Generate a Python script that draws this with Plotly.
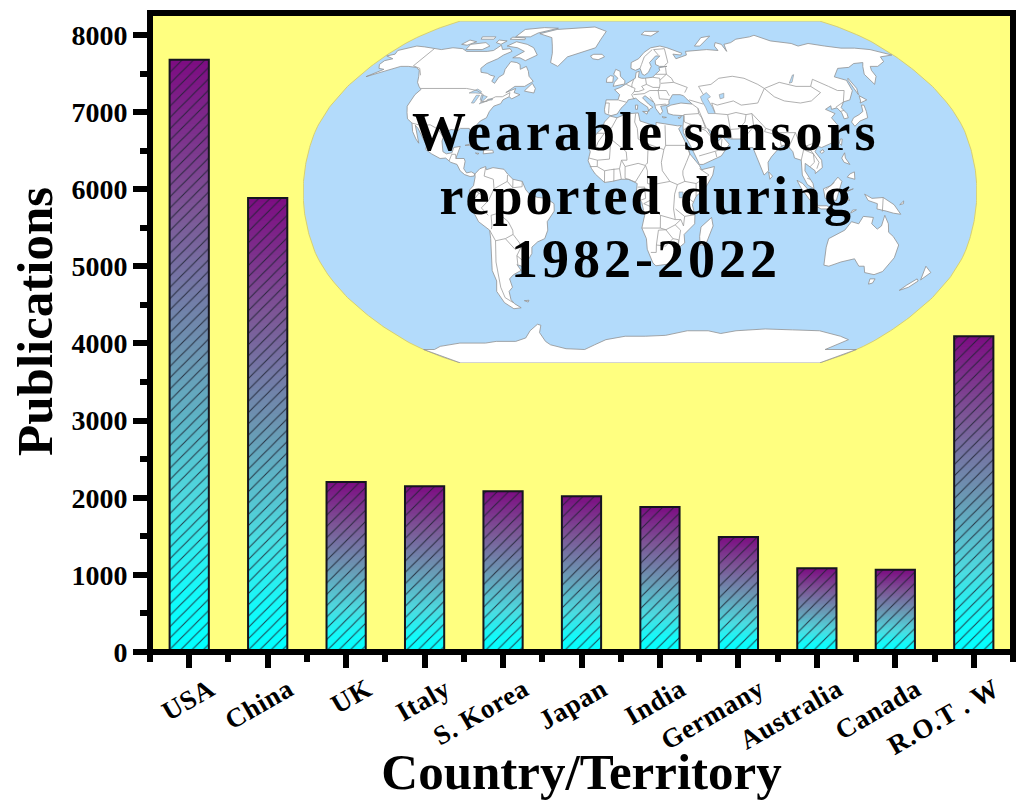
import numpy as np
import plotly.graph_objects as go

# ---- bar chart data ----
countries = ["USA", "China", "UK", "Italy", "S. Korea", "Japan", "India",
             "Germany", "Australia", "Canada", "R.O.T . W"]
publications = [7680, 5885, 2205, 2150, 2085, 2020, 1880, 1490, 1085, 1065, 4095]
y_ticks = [0, 1000, 2000, 3000, 4000, 5000, 6000, 7000, 8000]
headline = ["Wearable sensors", "reported during", "1982-2022"]

# ---- world outlines as (lon, lat); longitudes run -169..191 around a central meridian of 11E ----
north_america = [(-168,65.5),(-164,66.5),(-166,68.5),(-157,71),(-150,70.5),(-141,69.7),(-135,69),(-128,70),(-120,69.5),(-115,68),(-108,68),(-100,68),(-96,68.5),(-94,71.5),(-90,69),(-85,69.5),(-82,68),(-86,66),(-88,64),(-93,61.5),(-94.5,59),(-92.5,57),(-88,56.5),(-85,55.5),(-82,55),(-82,52.5),(-79.5,51.5),(-79,54.5),(-77,56),(-78,58.5),(-77.5,62.5),(-73,62),(-70,61),(-68,58.5),(-65,60),(-62,57.5),(-60,55),(-56,52.5),(-60,50),(-66,50),(-70,47),(-65,49),(-65,47),(-61,46),(-65,44),(-67,45),(-70,43.5),(-70.5,41.7),(-74,40.5),(-75.5,38),(-76,35),(-79,33.5),(-81,31),(-80,27),(-81,25),(-82.5,28),(-84,30),(-89,30),(-90,29),(-94,29.5),(-97,28),(-97.5,24),(-96,19),(-94,18),(-91,18.5),(-90.5,21),(-87,21.5),(-88,17),(-88.5,15.8),(-84,15.8),(-83.3,14.5),(-83.7,11),(-82,9),(-79.5,9.5),(-77.5,8.5),(-78,7.5),(-80,7.3),(-83,8.2),(-85.5,10),(-87.5,13),(-91,14),(-94,16),(-97,15.8),(-102,18),(-105.5,20),(-105.5,22),(-109,26),(-112.5,30),(-114.7,31.5),(-112,27),(-110,23),(-112,25),(-115,28.5),(-117,32.5),(-120.5,34.5),(-122.5,37.5),(-124.3,40.5),(-124,46),(-122.5,48.5),(-125,50),(-128,52),(-130.5,55),(-134,58),(-138,59.5),(-144,60),(-149,60),(-152,59),(-158,56.5),(-164,54.8),(-158,58.5),(-162,59),(-165,61),(-165,63),(-161,64),(-168,65.5)]
south_america = [(-77.5,8.5),(-75,11),(-72,12),(-71.5,10.5),(-68,11.5),(-62,10.7),(-60,8.5),(-57,6),(-52,5),(-50,1),(-48,-1),(-44,-2.5),(-39,-3),(-35,-5.5),(-35,-9),(-39,-14),(-39,-18),(-41,-22),(-45,-23.5),(-48.5,-26),(-49,-29),(-53,-33.5),(-56,-35),(-58.5,-34.2),(-57,-37),(-62,-39),(-65,-41),(-65,-45),(-68,-47),(-69,-51),(-68,-53),(-65,-55),(-70,-55.5),(-74,-52.5),(-75.5,-47),(-73,-42),(-73.5,-37),(-71.5,-30),(-70.5,-22),(-70.5,-18),(-76,-14),(-78,-10),(-81,-6),(-80,-2.5),(-80,1),(-78,3),(-77.3,7),(-77.5,8.5)]
africa = [(-6,35.8),(-2,35),(3,36.8),(10,37.3),(11,33.5),(15,32.3),(20,31),(20,32.8),(25,32),(32,31.2),(34.2,31.3),(32.5,29.8),(35,25),(37,21),(38,18),(43,12.5),(44,10.5),(51,12),(50,8),(46,2),(41,-2),(39,-6),(40.5,-11),(40.5,-15),(35,-20),(35.5,-24),(32.8,-26),(31,-30),(27,-34),(20,-34.8),(18.3,-33.5),(15,-27),(14.5,-22),(12,-17),(13.5,-11),(12,-5),(9,-1),(9.5,4),(5,6),(1,6),(-4,5),(-8,4.5),(-13,8.5),(-15,11),(-17,14.7),(-16,19),(-17,21),(-13,27.5),(-10,30),(-9,33),(-6,35.8)]
eurasia = [(-9,37),(-9.5,39),(-9,43.5),(-2,43.5),(-1.2,46),(-4.5,48.4),(-1,49.5),(2,51),(4,52),(8,54),(8.5,57),(10.5,57.5),(10,54.5),(12,54),(14,54),(19,54.5),(21,56),(24,58),(23.5,59.3),(29,60),(24,60),(21.5,61),(21.5,63),(25,65.5),(22,65.5),(17.5,62),(18.5,60),(16.5,57),(14,55.5),(12.5,56),(11,59),(8,58),(5,59),(5,62),(10,64),(14,67.5),(19,70),(26,71),(31,70),(41,67),(40,66),(34.5,66.5),(36,64),(40,65),(44,66),(44,68),(54,68.5),(60,69),(68,68.5),(67,71),(69,73),(73,72),(74,68),(75,72),(81,73),(87,75),(100,76.5),(105,77.5),(113,74),(127,72.5),(130,71),(140,72.5),(150,71),(160,69.8),(170,69.8),(180,69),(190,66),(180,65),(178,62.5),(170,60),(165,60),(163,58),(162,55),(158,52),(156.5,51),(155.7,56),(160,60),(163,62),(156,61.5),(150,59.5),(142,59),(135,54.7),(141,53),(140,48),(135,43.5),(130.5,42.5),(127.5,39.8),(129.3,37),(129,35),(126.5,34.5),(126.5,37.5),(125,39.7),(121.5,39),(122,40.7),(118,39),(122.5,37),(119.5,35),(122,31),(121,28),(117,23.5),(110,21),(108,21.5),(106,19),(109,15),(109,11.5),(105,8.7),(105,10),(100,13.5),(99.5,10),(103.5,4),(104,1.5),(100.5,3.5),(98,8),(98,15),(94.5,16),(94,19),(91,22.5),(87,21),(82,16.5),(80,14),(80,10),(77.5,8),(73,20),(72.5,21),(70,21),(67,25),(61,25),(57,26),(56.5,27),(52,27.5),(48.5,30),(51,25),(54,24.2),(56.5,26),(59.8,22.5),(55,17),(45,13),(43,13),(39,21),(35,28),(35,31),(36,36),(30,36.3),(27,37),(26.5,40),(29,41),(35,42),(41.5,41.5),(38,44.5),(37,45.5),(35,46),(33,46),(30.5,46),(28,43),(28,41.5),(26,40.8),(23,40.5),(24,38),(22.5,36.5),(20,39.5),(19.5,42),(14,45.5),(12.5,44.5),(16,41.5),(18.5,40),(16.5,39),(16,38),(15.5,40),(11,42.5),(8.5,44.3),(4,43.5),(3,42),(0,39.5),(-2,36.8),(-5.5,36),(-9,37)]
australia = [(114,-22),(113.5,-26),(115,-34.5),(118,-35),(124,-33),(131,-31.5),(135,-35),(138,-35),(140,-38),(146,-39),(150,-37.5),(153,-31),(153,-25),(149,-21),(146,-19),(145,-15),(142.5,-11),(141.5,-16),(139.5,-17.5),(136,-15),(136.5,-12),(131,-11.5),(129,-15),(125,-14),(122,-18),(114,-22)]
antarctica = [(-169,-78),(-160,-78),(-150,-76),(-130,-74),(-110,-74),(-100,-73),(-85,-73),(-75,-71),(-68,-67),(-60,-63.5),(-58,-64),(-62,-68),(-62,-73),(-60,-75),(-50,-77.5),(-35,-78),(-25,-75),(-15,-72),(0,-70),(15,-70),(30,-69.5),(45,-67),(60,-67),(70,-68.5),(80,-67),(100,-66),(120,-66.5),(140,-67),(160,-70),(170,-72),(165,-78),(191,-78),(191,-90),(-169,-90)]
islands = [
    [(-62,66),(-68,63),(-73,64.5),(-78,64.5),(-73,68),(-80,70),(-89,71),(-85,73.5),(-75,72),(-68,70)],
    [(-117,69),(-105,69),(-102,71),(-108,73),(-118,72)],
    [(-125,72),(-120,71.5),(-116,73.5),(-123,74.5)],
    [(-115,75),(-105,75),(-106,76.5),(-117,76.5)],
    [(-100,73),(-95,72),(-93,74),(-100,74.5)],
    [(-92,75),(-80,74.7),(-81,75.8),(-92,76.3)],
    [(-90,76.5),(-78,76.5),(-75,79),(-62,82.5),(-75,83),(-90,81.5)],
    [(-59,47.7),(-53,46.8),(-53,49),(-56,51.5),(-59,48)],
    [(-73,78.5),(-60,76),(-55,71),(-52,67),(-50,62),(-44,60),(-40,65),(-30,68),(-22,70),(-20,75),(-18,80),(-30,83.5),(-45,82.5),(-62,81.5)],
    [(-24,65.5),(-22,64),(-18,63.5),(-14,65),(-16,66.4),(-22,66.4)],
    [(-84.5,22),(-80,23),(-75,20.5),(-74.5,20),(-78,20),(-82,22)],
    [(-74,19.8),(-69,19.7),(-68.5,18.5),(-74,18)],
    [(-78.3,18.4),(-76.3,18.2),(-77,17.8)],
    [(-5.5,50),(1.5,51.2),(1.5,52.8),(-1.5,55),(-2,57.5),(-5,58.5),(-6,56),(-3,54),(-5,52)],
    [(-10,52),(-6,52),(-6,55),(-8,55.3),(-10,54)],
    [(12.5,38),(15.5,38),(15,36.7)],
    [(8.3,41),(9.7,41),(9.5,39),(8.5,39)],
    [(23.5,35.5),(26,35.2),(24.5,34.9)],
    [(32.5,35),(34.5,35.6),(33.5,34.6)],
    [(130,33),(131,31),(135,33.5),(140,35),(141,38),(141.5,41),(140,41),(139,38),(136,36.5),(132,35)],
    [(140,42),(145,43.5),(142,45.5),(141,43)],
    [(142,46),(143.5,49),(143,54),(142,53)],
    [(120,23),(121,25),(122,25),(121,22)],
    [(108.7,19),(110.5,20),(111,19),(109.5,18.2)],
    [(120,16),(122,18.5),(122,16),(124,13),(121,14)],
    [(122,7),(126,6),(126,9.5),(123.5,8.5)],
    [(109,1.5),(113,3),(117,7),(119,5),(117.5,1),(116,-4),(110,-3)],
    [(95,5.5),(98,4),(104,-2),(106,-6),(102,-4),(97,2)],
    [(105,-6.5),(111,-6.5),(114.5,-8),(108,-8)],
    [(119.5,-5.5),(119.5,0),(125,1.5),(121,0),(123,-4),(120.5,-3)],
    [(124,-10),(127,-8.4),(125,-8.5)],
    [(131,-1),(135,-3),(141,-2.6),(147,-6),(151,-10.5),(147,-10),(143,-9),(138,-8),(138,-5.5),(133,-4)],
    [(150,-6),(152,-4.2),(152,-5.5)],
    [(145,-41),(148,-41),(148,-43),(146,-43.5)],
    [(173,-35),(178,-38),(175,-41.5),(174,-39)],
    [(172.5,-41),(174,-42),(171,-45),(167,-46.5),(169,-44)],
    [(49.5,-12),(50.5,-16),(47,-25),(44,-25),(43.5,-21),(44,-16.5)],
    [(80,9.5),(82,7.5),(80.5,6)],
    [(52,71),(56,71),(68,77),(60,76)],
    [(12,78),(20,77),(27,80),(15,80)],
    [(-61,-51.5),(-58,-51.3),(-59,-52.2)],
]
lakes = [
    [(47,45),(51,47),(53,45),(51,44),(53,40),(54,37),(50,37),(49,40),(47.5,43)],
    [(-92,46.8),(-88,48.7),(-85,47.5),(-85,46.6),(-88,46.8)],
    [(-87.8,42),(-86.3,42),(-85,45.7),(-87,45.7)],
    [(-84,46),(-80,45),(-81.7,43),(-83.5,43.5)],
    [(-83,41.6),(-79,42.7),(-79,43),(-82.5,42.3)],
    [(-79.5,43.3),(-76.3,43.5),(-76.5,44.1),(-79,43.8)],
    [(31.8,0),(34,0),(33.7,-2.7),(32,-2.7)],
    [(104,51.6),(106,52),(110,55.8),(109,55.6)],
    [(58.5,46),(61.5,46.7),(60.8,44.5),(58.5,44)],
]
borders = [
    [(-123,49),(-95,49),(-88,48),(-83,46),(-82.5,42.5),(-79,43),(-75,45),(-71,45),(-67.5,47),(-67,45)],
    [(-141,69.7),(-141,60.3),(-135,59),(-130,55.5)],
    [(-117,32.5),(-111,31.3),(-106.5,31.7),(-101,29.5),(-97.5,26)],
    [(-92,14.6),(-91,17.8),(-89,17.8),(-88.3,15.8)],
    [(-72,11.5),(-72.5,7.5),(-67.5,6),(-67,1.5),(-70,-4),(-75,-0.5),(-78.5,1)],
    [(-75,-0.5),(-78.5,-4.5),(-80.3,-3.5)],
    [(-70,-4),(-74,-7.5),(-70.5,-11)],
    [(-69,-11),(-69,-16),(-69.5,-17.5)],
    [(-70.5,-18),(-68,-23),(-70,-33),(-72,-45),(-72,-50),(-68.5,-52.5)],
    [(-69,-11),(-65,-10),(-60,-14),(-58,-18),(-58,-20)],
    [(-68,-23),(-62.5,-22),(-58,-20),(-55,-24),(-54.5,-26),(-58,-27),(-62.5,-22)],
    [(-54.5,-26),(-57.5,-30),(-53.5,-33.5)],
    [(-57.5,-30),(-58,-34)],
    [(-60,8),(-60,5),(-57,2),(-52,2.5),(-52,5)],
    [(-57,6),(-57,2)],
    [(-67,1.5),(-60,5)],
    [(-2,35),(-5,30),(-8.7,27.7),(-13,27.7)],
    [(-8.7,27.7),(-12,23.5),(-13,21),(-17,21)],
    [(8.5,37),(8,33),(9.5,30),(10,25),(14,23),(24,20),(25,22),(25,31.5)],
    [(25,22),(36.8,22)],
    [(24,20),(22.5,14),(23,10),(27,5)],
    [(15.5,23),(15,13.5),(14,13)],
    [(-5,25),(3.5,19),(4,15),(1,15),(3,12)],
    [(3,12),(3,6.5),(8.5,4.7),(14,12.5),(10,13.5),(3,12)],
    [(-16.5,16),(-12,15),(-5.5,15.5),(-5,25)],
    [(-12,15),(-12,12),(-16,12)],
    [(-12,12),(-8,10),(-5,10.5),(0,11),(1,15)],
    [(-3,11),(-3,5)],
    [(0,11),(1,6)],
    [(-8,10),(-8,4.5)],
    [(14,12.5),(15,10),(15,4),(18,3.5),(18.5,-3),(13,-5.5)],
    [(9.8,2.3),(13.5,2.3),(14,-3),(11,-4)],
    [(18,3.5),(27,5),(31,3.5)],
    [(36.8,22),(38,18),(36,14),(34,10),(34,8),(35,5)],
    [(31,3.5),(35,5),(41,4),(41,-2)],
    [(41,4),(48,8),(43,11)],
    [(34,-1),(39.5,-4.7)],
    [(31,3.5),(29.5,-1),(29,-8),(30,-13),(22,-11)],
    [(13,-5.5),(17,-7),(22,-11),(22,-17),(12,-17)],
    [(30,-8),(35,-11.5),(40.5,-10.7)],
    [(22,-17),(25,-17.8),(30,-15.5),(33,-13),(30,-13)],
    [(30,-15.5),(33,-18),(32,-25)],
    [(35,-11.5),(34.5,-16),(33,-13)],
    [(17,-28.5),(20,-28.5),(20,-25),(25,-25.5),(29,-22),(32,-22.5),(32,-26)],
    [(20,-25),(21,-18),(25,-17.8),(29,-22)],
    [(-1.8,43.4),(3,42.4)],
    [(-9,42),(-7,42),(-7,37)],
    [(2.5,51),(6,49.5),(8,49),(7.5,47.5),(6,46),(7.5,43.8)],
    [(7,53.5),(6,51),(6,49.5)],
    [(14.5,54),(15,51),(12,50),(13.5,48.5),(10,47.5),(7.5,47.5)],
    [(7,46),(13.5,46.5),(17,48),(22,48),(23,49.5)],
    [(15,51),(19,49.5),(23,49.5),(23.5,51.5),(23.5,54),(19,54.5)],
    [(22,48),(27,48),(28.5,45.5)],
    [(22,48),(22.5,44),(28,43.7)],
    [(20,41),(26,41.5)],
    [(17,45),(19,42.5)],
    [(24,51.5),(32,52),(40,49.5),(38,47)],
    [(23.5,53),(28,56),(31,54),(32,52)],
    [(21,56),(28,56),(28,59.5)],
    [(29,69.5),(30,62),(27.5,60.5)],
    [(20,69),(14,65),(12,61),(11,59)],
    [(24,66),(21,69),(29,69.5)],
    [(26,41.5),(26.5,40.5)],
    [(36,36.5),(44.5,37),(44.5,39.5),(41.5,41.5)],
    [(40,43.5),(48,41.5)],
    [(36,36.5),(36,33),(39,32),(47.5,30),(46,35),(44.5,37)],
    [(35,29),(39,32),(47.5,29),(51,25)],
    [(43,17),(52,19),(55,20),(56,25)],
    [(52,19),(52.5,16.5)],
    [(61.5,25),(61,31),(61,36.5),(54,37)],
    [(44.5,39.5),(46,35),(48,30)],
    [(61,29.5),(66,29.8),(70,33),(71.5,36.5),(75,37)],
    [(61,36.5),(66,37.5),(71.5,36.5)],
    [(47,50),(55,51),(61,54),(70,55),(77,54),(84,51),(87,49)],
    [(53,42),(56,41),(66,43),(70,41),(80,42),(85,47),(87,49)],
    [(54,37.5),(53,42)],
    [(47,50),(49,46)],
    [(87,49),(98,52),(107,50),(116,50),(120,47),(112,43),(105,42),(96,43),(91,45),(87,49)],
    [(116,50),(120,53.5),(127,50),(131,48),(135,48),(131,43),(130.5,42.5)],
    [(130.5,42.5),(124.5,40)],
    [(126,38),(128.5,38.5)],
    [(75,37),(79,32),(81,30),(88,28),(97,28),(98,24),(101,21.5),(106,23),(108,21.5)],
    [(75,37),(74.5,31),(70,27),(69,24)],
    [(81,30),(80,28.5),(88,26.5)],
    [(88,26),(88,22),(92,22),(92,25),(88,26)],
    [(92,21),(94,24),(97,28)],
    [(98,15),(100,20),(105,18),(105,14),(102.5,12)],
    [(102,22),(105,18),(107.5,14),(106,11)],
    [(141,-2.6),(141,-9.2)],
    [(100.5,6.5),(102,6)],
    [(115,4.5),(110,1)],
]

# ---- Robinson projection tables (5 degree steps) ----
rob_lat = np.arange(0, 95, 5)
rob_plen = [1, .9986, .9954, .99, .9822, .973, .96, .9427, .9216, .8962,
            .8679, .835, .7986, .7597, .7186, .6732, .6213, .5722, .5322]
rob_pdfe = [0, .062, .124, .186, .248, .31, .372, .434, .4958, .5571,
            .6176, .6769, .7346, .7903, .8435, .8936, .9394, .9761, 1]
CENTRAL_LON = 11


def robinson(lon, lat):
    """Normalised Robinson coordinates: x and y both span -1..1."""
    plen = np.interp(abs(lat), rob_lat, rob_plen)
    pdfe = np.interp(abs(lat), rob_lat, rob_pdfe)
    return plen * (lon - CENTRAL_LON) / 180, np.sign(lat) * pdfe


def project(rings, close=True):
    xs, ys = [], []
    for ring in rings:
        points = list(ring) + ([ring[0]] if close else [])
        for lon, lat in points:
            px, py = robinson(lon, lat)
            xs.append(px)
            ys.append(py)
        xs.append(None)
        ys.append(None)
    return xs, ys


# ---- figure geometry in pixels ----
W, H = 1016, 800
PLOT_L, PLOT_R, PLOT_T, PLOT_B = 150, 1013, 13, 652
MAP_L, MAP_R, MAP_T, MAP_B = 303, 977, 21, 363
Y_MAX = 8285

fig = go.Figure()

# gradient fill: overlapping layers painted bottom-up, each reaching to the bar's full value,
# so no seams appear between the colour steps
LAYERS = 120
grad_pos = [0, .1, .25, .5, .75, 1]
grad_r = [0, 20, 75, 108, 125, 125]
grad_g = [255, 250, 220, 150, 85, 12]
grad_b = [255, 250, 225, 178, 150, 130]
seg_x, seg_h, seg_base, seg_col = [], [], [], []
for k in range(LAYERS):
    f = (k + 0.5) / LAYERS
    r, g, b = (np.interp(f, grad_pos, ch) for ch in (grad_r, grad_g, grad_b))
    for i, v in enumerate(publications):
        seg_x.append(i)
        seg_base.append(v * k / LAYERS)
        seg_h.append(v * (LAYERS - k) / LAYERS)
        seg_col.append(f"rgb({r:.0f},{g:.0f},{b:.0f})")
fig.add_bar(x=seg_x, y=seg_h, base=seg_base, width=0.5,
            marker=dict(color=seg_col, line=dict(width=0)),
            hoverinfo="skip", showlegend=False)

# hatching and outline on top of the gradient
fig.add_bar(x=list(range(len(countries))), y=publications, width=0.5,
            marker=dict(color="rgba(0,0,0,0)",
                        line=dict(color="#15151f", width=2),
                        pattern=dict(shape="/", size=8, solidity=0.13,
                                     fgcolor="#1c2030", fgopacity=0.85,
                                     bgcolor="rgba(0,0,0,0)")),
            showlegend=False)

# world map panel
edge_lat = np.arange(-90, 91, 1.0)
edge = [(191, a) for a in edge_lat] + [(-169, a) for a in edge_lat[::-1]]
ox, oy = project([edge])
fig.add_scatter(x=ox, y=oy, xaxis="x2", yaxis="y2", mode="lines", fill="toself",
                fillcolor="#B3DBFB", line=dict(color="#D8D070", width=1),
                hoverinfo="skip", showlegend=False)

land = [north_america, south_america, africa, eurasia, australia, antarctica] + islands
lx, ly = project(land)
fig.add_scatter(x=lx, y=ly, xaxis="x2", yaxis="y2", mode="lines", fill="toself",
                fillcolor="white", line=dict(color="#909090", width=0.8),
                hoverinfo="skip", showlegend=False)

wx, wy = project(lakes)
fig.add_scatter(x=wx, y=wy, xaxis="x2", yaxis="y2", mode="lines", fill="toself",
                fillcolor="#B3DBFB", line=dict(color="#909090", width=0.6),
                hoverinfo="skip", showlegend=False)

bx, by = project(borders, close=False)
fig.add_scatter(x=bx, y=by, xaxis="x2", yaxis="y2", mode="lines",
                line=dict(color="#9C9C9C", width=0.8),
                hoverinfo="skip", showlegend=False)

SERIF = "Liberation Serif"
tick_font = dict(family=SERIF, size=27, color="black", weight="bold")
title_font = dict(family=SERIF, size=51, color="black", weight="bold")

fig.update_layout(
    width=W, height=H,
    margin=dict(l=0, r=0, t=0, b=0),
    paper_bgcolor="white",
    plot_bgcolor="rgba(0,0,0,0)",
    barmode="overlay",
    font=dict(family=SERIF, color="black"),
    xaxis=dict(
        domain=[PLOT_L / W, PLOT_R / W],
        range=[-0.5, 10.5],
        tickmode="array", tickvals=list(range(len(countries))), ticktext=countries,
        tickangle=-30, tickfont=tick_font,
        ticks="outside", ticklen=15, tickwidth=6, tickcolor="black",
        ticklabelshift=21, ticklabelstandoff=-5,
        minor=dict(ticks="outside", ticklen=9, tickwidth=6, tickcolor="black",
                   tick0=0.5, dtick=1),
        showgrid=False, zeroline=False, showline=False, automargin=False,
        title=dict(text="Country/Territory", font=title_font, standoff=9),
    ),
    yaxis=dict(
        domain=[(H - PLOT_B) / H, (H - PLOT_T) / H],
        range=[0, Y_MAX],
        tickmode="array", tickvals=y_ticks, tickfont=dict(tick_font, size=28),
        ticks="outside", ticklen=16, tickwidth=6, tickcolor="black",
        ticklabelstandoff=0,
        minor=dict(ticks="outside", ticklen=9, tickwidth=6, tickcolor="black",
                   tick0=0, dtick=500),
        showgrid=False, zeroline=False, showline=False, automargin=False,
    ),
    xaxis2=dict(domain=[MAP_L / W, MAP_R / W], range=[-1, 1], visible=False,
                anchor="y2", fixedrange=True),
    yaxis2=dict(domain=[(H - MAP_B) / H, (H - MAP_T) / H], range=[-1, 1], visible=False,
                anchor="x2", fixedrange=True),
    shapes=[
        # panel colour sits under every trace so the map's subplot cannot cover a bar
        dict(type="rect", xref="paper", yref="paper",
             x0=PLOT_L / W, x1=PLOT_R / W,
             y0=(H - PLOT_B) / H, y1=(H - PLOT_T) / H,
             fillcolor="#FFFF80", line=dict(width=0), layer="below"),
        dict(type="rect", xref="paper", yref="paper",
             x0=PLOT_L / W, x1=PLOT_R / W,
             y0=(H - PLOT_B) / H, y1=(H - PLOT_T) / H,
             line=dict(color="black", width=6), layer="above"),
    ],
)

# vertical axis title, centred on the data range rather than the panel
fig.add_annotation(xref="paper", yref="paper", x=35 / W, y=(H - 322) / H,
                   text="Publications", textangle=-90, showarrow=False,
                   xanchor="center", yanchor="middle", font=title_font)

# headline across the map
for line, centre_x, centre_y in zip(headline, (645, 647, 645.5), (132, 196, 259)):
    fig.add_annotation(xref="paper", yref="paper", x=centre_x / W, y=(H - centre_y) / H,
                       text=line, showarrow=False, xanchor="center", yanchor="middle",
                       font=dict(family=SERIF, size=54, color="black", weight="bold"))

spacing = """
document.querySelectorAll('.annotation-text').forEach(function (t) {
  var s = t.textContent;
  if (s === 'Publications') { return; }
  t.style.letterSpacing = s.indexOf('reported') === 0 ? '3px' : '4px';
});
document.querySelectorAll('.xtick text').forEach(function (t) {
  t.style.letterSpacing = '0.6px';
});
"""
fig.write_html("out.html", post_script=spacing, config={"displayModeBar": False})
